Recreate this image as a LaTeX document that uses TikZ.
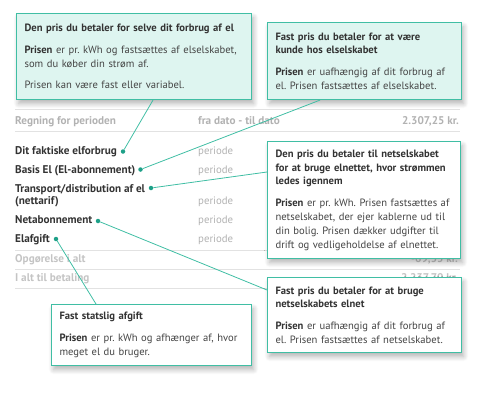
\documentclass[tikz,border=0pt]{standalone}
\usepackage{fontspec}
\setmainfont{PT Sans}
\frenchspacing
\usetikzlibrary{shadows.blur}
\definecolor{teal1}{RGB}{64,190,164}
\definecolor{dotc}{RGB}{30,160,136}
\definecolor{mint}{RGB}{222,245,240}
\definecolor{dark}{RGB}{51,51,51}
\definecolor{body}{RGB}{68,68,68}
\definecolor{gray1}{RGB}{178,178,178}
\definecolor{gray2}{RGB}{196,196,196}
\definecolor{rulec}{RGB}{226,226,226}
\tikzset{
  fnt/.style={font=\fontsize{10.6}{13.8}\selectfont},
  callout/.style={fnt, rectangle, draw=teal1, line width=1.1pt, fill=white, anchor=north west,
     inner xsep=8pt, inner ysep=4pt, align=left, text=body,
     blur shadow={shadow xshift=2pt, shadow yshift=-4pt, shadow blur steps=8, shadow blur radius=5pt, shadow opacity=30}},
  mintbox/.style={callout, fill=mint},
  rowlabel/.style={anchor=base west, inner sep=0pt, text=dark, font=\fontsize{11.2}{14}\selectfont\bfseries},
  graylabel/.style={anchor=base west, inner sep=0pt, text=gray1, font=\fontsize{11.2}{14}\selectfont\bfseries},
  lightlabel/.style={graylabel, text=gray2},
  periodlabel/.style={anchor=base west, inner sep=0pt, text=gray1, font=\fontsize{10.8}{14}\selectfont},
  amount/.style={graylabel, anchor=base east},
  rowrule/.style={draw=rulec, line width=0.8pt},
  conn/.style={draw=teal1, line width=0.8pt},
  dotmark/.style={circle, fill=dotc, inner sep=0pt, minimum size=4.5pt},
}
\begin{document}
\begin{tikzpicture}[x=1pt,y=-1pt]
\useasboundingbox (0,0) rectangle (500,415);
% table rules
\foreach \yy in {109,131,250,269,288} \draw[rowrule] (15,\yy) -- (460,\yy);
% header
\node[graylabel] (hdr1) at (15,124.9) {Regning for perioden};
\node[graylabel] (hdr2) at (198,124.9) {fra dato - til dato};
\node[amount] (hdr3) at (459,124.9) {2.307,25 kr.};
% rows
\node[rowlabel] (r1) at (15,154.9) {Dit faktiske elforbrug};
\node[rowlabel] (r2) at (15,173.9) {Basis El (El-abonnement)};
\node[rowlabel] (r3a) at (15,192.9) {Transport/distribution af el};
\node[rowlabel] (r3b) at (15,204.9) {(nettarif)};
\node[rowlabel] (r4) at (15,223.9) {Netabonnement};
\node[rowlabel] (r5) at (15,242.9) {Elafgift};
\node[periodlabel] (p1) at (198,154.9) {periode};
\node[periodlabel] (p2) at (198,173.9) {periode};
\node[periodlabel] (p3) at (198,204.9) {periode};
\node[periodlabel] (p4) at (198,223.9) {periode};
\node[periodlabel] (p5) at (198,242.9) {periode};
\node[lightlabel] (t1) at (15,262.9) {Opgørelse i alt};
\node[lightlabel] (t2) at (15,281.9) {I alt til betaling};
\node[amount, text=gray2] (a1) at (458,262.9) {-69,55 kr.};
\node[amount, text=gray2] (a2) at (458,281.9) {2.237,70 kr.};
% dots
\node[dotmark] (d1) at (123,151.5) {};
\node[dotmark] (d2) at (140.5,169.5) {};
\node[dotmark] (d3) at (151,188) {};
\node[dotmark] (d4) at (98,221) {};
\node[dotmark] (d5) at (56,239) {};
% callouts
\node[mintbox, text width=219pt, minimum height=86pt] (b1) at (16,13)
 {\mbox{\textbf{\color{dark}Den pris du betaler for selve dit forbrug af el}}\\[8pt]
  \mbox{\textbf{\color{dark}Prisen} er pr. kWh og fastsættes af elselskabet,}\\
  \mbox{som du køber din strøm af.}\\[8pt]
  \mbox{Prisen kan være fast eller variabel.}};
\node[mintbox, text width=178pt, minimum height=77pt] (b2) at (267,22)
 {\mbox{\textbf{\color{dark}Fast pris du betaler for at være}}\\
  \mbox{\textbf{\color{dark}kunde hos elselskabet}}\\[8pt]
  \mbox{\textbf{\color{dark}Prisen} er uafhængig af dit forbrug af}\\
  \mbox{el. Prisen fastsættes af elselskabet.}};
\node[callout, text width=177pt, minimum height=117pt] (b3) at (267,141)
 {\mbox{\textbf{\color{dark}Den pris du betaler til netselskabet}}\\
  \mbox{\textbf{\color{dark}for at bruge elnettet, hvor strømmen}}\\
  \mbox{\textbf{\color{dark}ledes igennem}}\\[8pt]
  \mbox{\textbf{\color{dark}Prisen} er pr. kWh. Prisen fastsættes af}\\
  \mbox{netselskabet, der ejer kablerne ud til}\\
  \mbox{din bolig. Prisen dækker udgifter til}\\
  \mbox{drift og vedligeholdelse af elnettet.}};
\node[callout, text width=178pt, minimum height=75pt] (b4) at (267,277)
 {\mbox{\textbf{\color{dark}Fast pris du betaler for at bruge}}\\
  \mbox{\textbf{\color{dark}netselskabets elnet}}\\[8pt]
  \mbox{\textbf{\color{dark}Prisen} er uafhængig af dit forbrug af}\\
  \mbox{el. Prisen fastsættes af netselskabet.}};
\node[callout, text width=184pt, minimum height=61pt] (b5) at (51,304)
 {\mbox{\textbf{\color{dark}Fast statslig afgift}}\\[8pt]
  \mbox{\textbf{\color{dark}Prisen} er pr. kWh og afhænger af, hvor}\\
  \mbox{meget el du bruger.}};
% connectors
\draw[conn] ([xshift=137pt]b1.south west) -- (d1);
\draw[conn] ([xshift=53pt]b2.south west) -- (d2);
\draw[conn] ([yshift=-31pt]b3.north west) -- (d3);
\draw[conn] (d4) -- ([yshift=-13pt]b4.north west);
\draw[conn] (d5) -- ([xshift=45pt]b5.north west);
\end{tikzpicture}
\end{document}
